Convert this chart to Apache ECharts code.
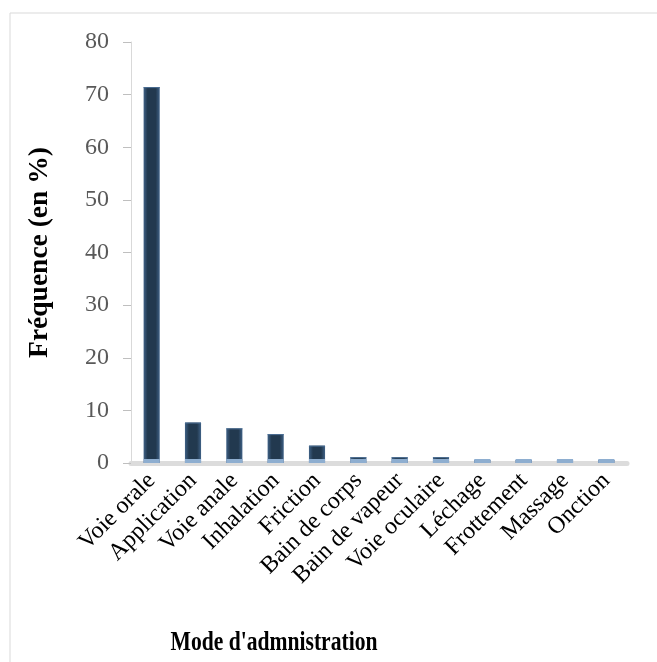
<!DOCTYPE html>
<html>
<head>
<meta charset="utf-8">
<script src="https://cdn.jsdelivr.net/npm/echarts@6/dist/echarts.min.js"></script>
<style>
  html, body { margin: 0; padding: 0; background: #fff; }
  #chart { width: 657px; height: 662px; }
</style>
</head>
<body>
<div id="chart"></div>
<script>
// Mode d'administration des recettes (fréquence en %)
const categories = ['Voie orale', 'Application', 'Voie anale', 'Inhalation', 'Friction',
  'Bain de corps', 'Bain de vapeur', 'Voie oculaire', 'Léchage', 'Frottement', 'Massage', 'Onction'];
const frequencies = [71.43, 7.69, 6.59, 5.49, 3.30, 1.10, 1.10, 1.10, 0.55, 0.55, 0.55, 0.55];
const yTicks = { min: 0, max: 80, interval: 10 };
const xTitle = "Mode d'admnistration";
const yTitle = 'Fréquence (en %)';

const serif = '"Liberation Serif", "Times New Roman", serif';

const chart = echarts.init(document.getElementById('chart'));

// Bar body: shaded like a cylinder, with a light base cap sitting on the floor
const barFill = new echarts.graphic.LinearGradient(0, 0, 1, 0, [
  { offset: 0, color: '#3f6186' },
  { offset: 0.25, color: '#22394f' },
  { offset: 0.75, color: '#22394f' },
  { offset: 1, color: '#3f6186' }
]);

function renderBar(params, api) {
  const top = api.coord([api.value(0), api.value(1)]);
  const base = api.coord([api.value(0), 0]);
  const w = api.size([1, 0])[0] * 0.39;
  const x0 = top[0] - w / 2;
  const capH = 4;
  return {
    type: 'group',
    children: [
      {
        type: 'rect',
        shape: { x: x0, y: top[1], width: w, height: Math.max(0, base[1] - top[1]) },
        style: { fill: barFill }
      },
      {
        type: 'rect',
        shape: { x: x0, y: top[1], width: w, height: 1 },
        style: { fill: '#4d7096' }
      },
      {
        type: 'rect',
        shape: { x: x0, y: base[1] - capH, width: w, height: capH },
        style: { fill: '#8eaed0' }
      }
    ]
  };
}

chart.setOption({
  animation: false,
  backgroundColor: '#fff',
  graphic: [
    {
      type: 'rect',
      shape: { x: 10, y: 13, width: 700, height: 700 },
      style: { fill: 'none', stroke: '#d9d9d9', lineWidth: 1 },
      silent: true,
      z: -10
    },
    {
      // x-axis title, centred on the chart frame, narrow bold face
      type: 'text',
      x: 274,
      y: 643,
      scaleX: 0.8,
      style: {
        text: xTitle,
        fontFamily: serif,
        fontWeight: 'bold',
        fontSize: 27,
        fill: '#000',
        align: 'center',
        verticalAlign: 'middle'
      },
      silent: true
    }
  ],
  grid: { left: 131, right: 30, top: 42, bottom: 199 },
  xAxis: {
    type: 'category',
    data: categories,
    axisLine: { show: true, lineStyle: { color: '#dcdcdc', width: 5 } },
    axisTick: { show: false },
    axisLabel: {
      rotate: 45,
      interval: 0,
      margin: 14,
      fontFamily: serif,
      fontSize: 24,
      color: '#000'
    }
  },
  yAxis: {
    type: 'value',
    min: yTicks.min,
    max: yTicks.max,
    interval: yTicks.interval,
    name: yTitle,
    nameLocation: 'middle',
    nameRotate: 90,
    nameGap: 77,
    nameTextStyle: { fontFamily: serif, fontWeight: 'bold', fontSize: 27.5, color: '#000' },
    axisLine: { show: true, lineStyle: { color: '#d9d9d9', width: 1 } },
    axisTick: { show: true, length: 8, lineStyle: { color: '#bfbfbf' } },
    splitLine: { show: false },
    axisLabel: {
      margin: 22,
      fontFamily: serif,
      fontSize: 24,
      color: '#595959'
    }
  },
  series: [
    {
      type: 'custom',
      renderItem: renderBar,
      encode: { x: 0, y: 1 },
      data: frequencies.map((v, i) => [i, v])
    }
  ]
});
</script>
</body>
</html>
